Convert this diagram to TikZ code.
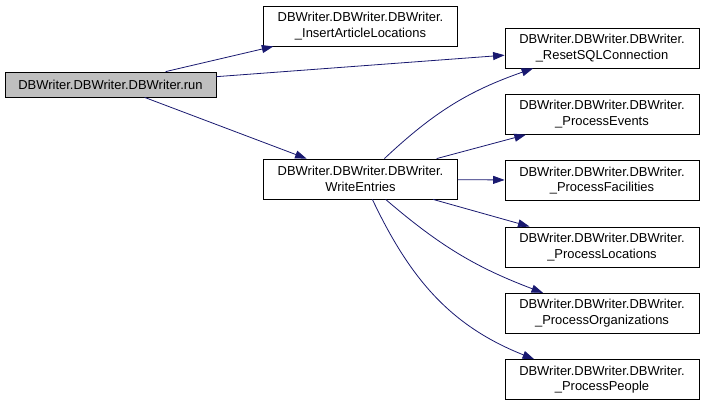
\documentclass[tikz,border=0pt]{standalone}
\usepackage{fontspec}
\setmainfont{Liberation Sans}
\usetikzlibrary{arrows.meta, positioning}
\definecolor{edgeblue}{RGB}{25,25,112}
\definecolor{rungray}{RGB}{191,191,191}

\begin{document}
\begin{tikzpicture}[
    x=1bp, y=-1bp,
    node distance=25.5bp and 48bp,
    >={Triangle[length=11.5bp, width=8bp]},
    func/.style={
        rectangle, draw=black, line width=0.8bp, minimum width=194bp, minimum height=40bp,
        inner sep=0pt, align=center, font=\fontsize{13}{15.5}\selectfont
    },
    call/.style={->, line width=0.8bp, color=edgeblue}
]
\useasboundingbox (0,0) rectangle (704,401);

% Caller
\node[func, fill=rungray, minimum width=211bp, minimum height=25bp] (run) at (110.5,84.5) {DBWriter.DBWriter.DBWriter.run};

% Middle column
\node[func] (insert) at (360.5,26) {DBWriter.DBWriter.DBWriter.\\\_InsertArticleLocations};
\node[func] (write) at (360.5,179) {DBWriter.DBWriter.DBWriter.\\WriteEntries};

% Right column
\node[func] (reset) at (602,48) {DBWriter.DBWriter.DBWriter.\\\_ResetSQLConnection};
\node[func, below=of reset] (events) {DBWriter.DBWriter.DBWriter.\\\_ProcessEvents};
\node[func, below=of events] (facil) {DBWriter.DBWriter.DBWriter.\\\_ProcessFacilities};
\node[func, below=of facil] (locs) {DBWriter.DBWriter.DBWriter.\\\_ProcessLocations};
\node[func, below=of locs] (orgs) {DBWriter.DBWriter.DBWriter.\\\_ProcessOrganizations};
\node[func, below=of orgs] (people) {DBWriter.DBWriter.DBWriter.\\\_ProcessPeople};

% Calls from run
\draw[call] (run) -- (insert);
\draw[call] (run) -- (reset);
\draw[call] (run) -- (write);

% Calls from WriteEntries
\draw[call] (write) to[bend left=12] (reset);
\draw[call] (write) -- (events);
\draw[call] (write) -- (facil);
\draw[call] (write) -- (locs);
\draw[call] (write) to[bend right=10] (orgs);
\draw[call] (write) to[out=-20, in=203, relative] (people);

\end{tikzpicture}
\end{document}
